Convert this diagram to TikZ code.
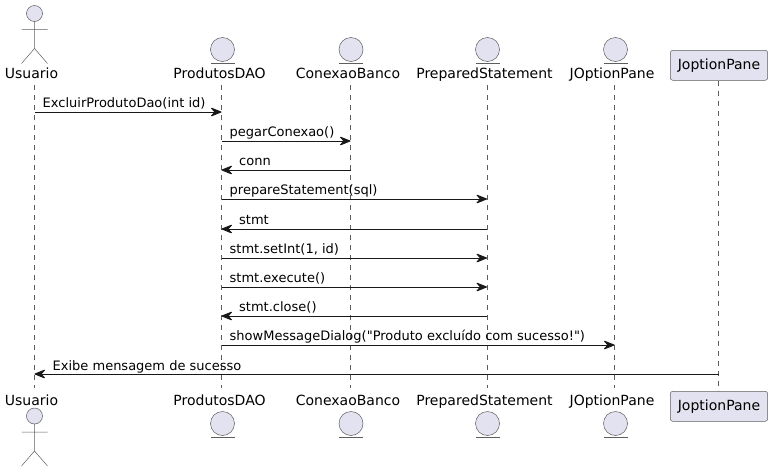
\documentclass[tikz,border=0pt]{standalone}
\usepackage{fontspec}
\setmainfont{DejaVu Sans}[Ligatures=TeXOff]
\usetikzlibrary{arrows.meta}
\definecolor{partfill}{HTML}{E2E2F0}
\definecolor{partline}{HTML}{181818}
\colorlet{softline}{partline!70!white}
\tikzset{
  x=1pt,y=-1pt,
  lifeline/.style={draw=softline,line width=0.5pt,dash pattern=on 5pt off 5pt},
  figure/.style={draw=softline,line width=0.5pt,fill=partfill},
  plain/.style={draw=softline,line width=0.5pt},
  partname/.style={anchor=base,inner sep=0pt,font=\fontsize{14}{16}\selectfont,text=black},
  msgtext/.style={anchor=base west,inner sep=0pt,font=\fontsize{13}{15}\selectfont,text=black},
  msg/.style={draw=partline,line width=1pt,-{Stealth[length=12.5pt,width=10pt,inset=4.5pt,round]}},
  partbox/.style={draw=softline,line width=0.5pt,fill=partfill,rounded corners=2.5pt,minimum width=97.4pt,minimum height=30pt,inner sep=0pt,font=\fontsize{14}{16}\selectfont,text=black},
}
\newcommand{\actorfig}[2]{% x, y of head top
  \draw[figure] (#1,#2+8) circle[radius=8];
  \draw[plain] (#1,#2+16) -- (#1,#2+43)
    (#1-13,#2+24) -- (#1+13,#2+24)
    (#1-13,#2+58) -- (#1,#2+43) -- (#1+13,#2+58);
}
\newcommand{\entityfig}[2]{% x, y of circle top
  \draw[figure] (#1,#2+12) circle[radius=12];
  \draw[plain] (#1-12,#2+25.5) -- (#1+12,#2+25.5);
}
\begin{document}
\begin{tikzpicture}
\useasboundingbox (0,0) rectangle (772,472);
% lifeline ends
\foreach \n/\x in {u/34.5,p/221.5,c/350.5,s/487,o/614.5,j/718.5}{
  \coordinate (\n T) at (\x,85);
  \coordinate (\n B) at (\x,388);
}
\coordinate (jT) at (718.5,80.5);
\coordinate (jB) at (718.5,391);
\foreach \n in {u,p,c,s,o,j}{ \draw[lifeline] (\n T) -- (\n B); }
% top heads
\actorfig{34.5}{5.5}
\entityfig{222.5}{37.5}
\entityfig{351}{37.5}
\entityfig{487.5}{37.5}
\entityfig{615.5}{37.5}
\node[partname] (uTop) at (31.5,78) {Usuario};
\node[partname] (pTop) at (219.5,78) {ProdutosDAO};
\node[partname] (cTop) at (348,78) {ConexaoBanco};
\node[partname] (sTop) at (484.5,78) {PreparedStatement};
\node[partname] (oTop) at (612,78) {JOptionPane};
\node[partbox] (jTop) at (719,65.3) {JoptionPane};
% bottom heads
\actorfig{34.5}{408}
\entityfig{222.5}{411.5}
\entityfig{351}{411.5}
\entityfig{487.5}{411.5}
\entityfig{615.5}{411.5}
\node[partname] (uBot) at (31.5,405) {Usuario};
\node[partname] (pBot) at (219.5,405) {ProdutosDAO};
\node[partname] (cBot) at (348,405) {ConexaoBanco};
\node[partname] (sBot) at (484.5,405) {PreparedStatement};
\node[partname] (oBot) at (612,405) {JOptionPane};
\node[partbox] (jBot) at (719,406.3) {JoptionPane};
% messages
\foreach \i/\y in {1/112,2/141,3/170,4/199,5/229,6/258,7/287,8/316,9/345,10/374}{
  \coordinate (m\i) at (0,\y);
}
\draw[msg] (uT |- m1) -- (pT |- m1);
\draw[msg] (pT |- m2) -- (cT |- m2);
\draw[msg] (cT |- m3) -- (pT |- m3);
\draw[msg] (pT |- m4) -- (sT |- m4);
\draw[msg] (sT |- m5) -- (pT |- m5);
\draw[msg] (pT |- m6) -- (sT |- m6);
\draw[msg] (pT |- m7) -- (sT |- m7);
\draw[msg] (sT |- m8) -- (pT |- m8);
\draw[msg] (pT |- m9) -- (oT |- m9);
\draw[msg] (jT |- m10) -- (uT |- m10);
% message labels
\node[msgtext] (t1) at (42.5,107.5) {ExcluirProdutoDao(int id)};
\node[msgtext] (t2) at (229.5,136.5) {pegarConexao()};
\node[msgtext] (t3) at (239,165.5) {conn};
\node[msgtext] (t4) at (229.5,194.5) {prepareStatement(sql)};
\node[msgtext] (t5) at (239,224.5) {stmt};
\node[msgtext] (t6) at (229.5,253.5) {stmt.setInt(1, id)};
\node[msgtext] (t7) at (229.5,282.5) {stmt.execute()};
\node[msgtext] (t8) at (239,311.5) {stmt.close()};
\node[msgtext] (t9) at (229.5,340.5) {showMessageDialog(\symbol{34}Produto excluído com sucesso!\symbol{34})};
\node[msgtext] (t10) at (52.5,370) {Exibe mensagem de sucesso};
\end{tikzpicture}
\end{document}
